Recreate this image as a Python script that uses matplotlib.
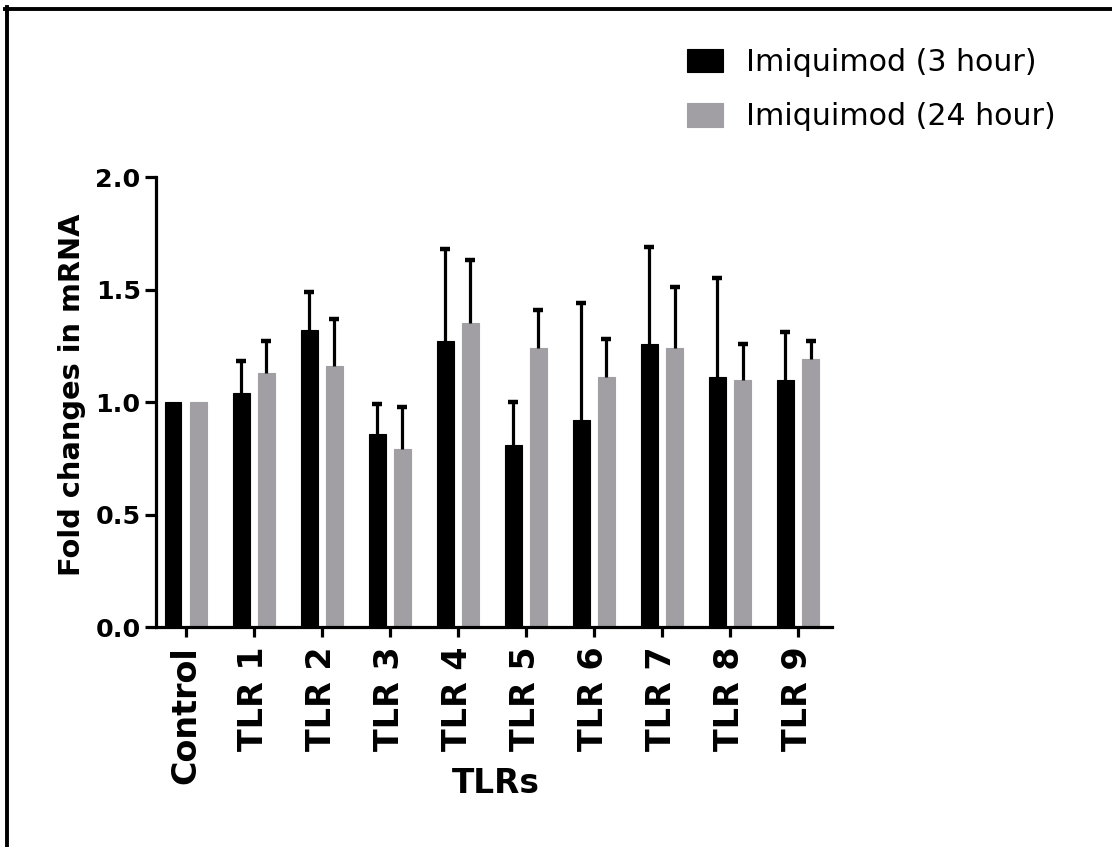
import numpy as np
import matplotlib
matplotlib.use("Agg")
import matplotlib.pyplot as plt
from matplotlib.lines import Line2D

categories = ["Control", "TLR 1", "TLR 2", "TLR 3", "TLR 4", "TLR 5", "TLR 6", "TLR 7", "TLR 8", "TLR 9"]
series_names = ["Imiquimod (3 hour)", "Imiquimod (24 hour)"]
values_3h = [1.00, 1.04, 1.32, 0.86, 1.27, 0.81, 0.92, 1.26, 1.11, 1.10]
values_24h = [1.00, 1.13, 1.16, 0.79, 1.35, 1.24, 1.11, 1.24, 1.10, 1.19]
err_3h = [0.0, 0.14, 0.17, 0.13, 0.41, 0.19, 0.52, 0.43, 0.44, 0.21]
err_24h = [0.0, 0.14, 0.21, 0.19, 0.28, 0.17, 0.17, 0.27, 0.16, 0.08]
y_ticks = [0.0, 0.5, 1.0, 1.5, 2.0]

W, H = 1112, 847
fig = plt.figure(figsize=(W / 100, H / 100), dpi=100)
fig.patch.set_facecolor("white")

def px(x0, y0, x1, y1):
    return [x0 / W, 1 - y1 / H, (x1 - x0) / W, (y1 - y0) / H]

ax = fig.add_axes(px(156, 177, 832, 627))

black = "#000000"
gray = "#a19fa4"
x = np.arange(len(categories))
off = 0.185
width = 0.245

b1 = ax.bar(x - off, values_3h, width, color=black, edgecolor=black, linewidth=0.8, label=series_names[0], zorder=2)
b2 = ax.bar(x + off, values_24h, width, color=gray, edgecolor=gray, linewidth=0.8, label=series_names[1], zorder=2)

for xs, vals, errs in [(x - off, values_3h, err_3h), (x + off, values_24h, err_24h)]:
    v = np.array(vals); e = np.array(errs); m = e > 0
    ax.vlines(xs[m], v[m], (v + e)[m], color="black", linewidth=2.3, zorder=3)
    ax.plot(xs[m], (v + e)[m], linestyle="none", marker="_", markersize=7,
            markeredgewidth=3.2, color="black", zorder=3)

ax.set_xlim(-0.437, 9.5)
ax.set_ylim(0, 2.0)
ax.set_yticks(y_ticks)
ax.set_yticklabels([f"{t:.1f}" for t in y_ticks])
ax.set_xticks(x)
ax.set_xticklabels(categories, rotation=90)

for s in ["top", "right"]:
    ax.spines[s].set_visible(False)
for s in ["left", "bottom"]:
    ax.spines[s].set_linewidth(2.3)
    ax.spines[s].set_capstyle("projecting")

ax.tick_params(axis="y", length=8, width=2.3, pad=3, labelsize=18.3)
ax.tick_params(axis="x", length=7, width=2.3, pad=7, labelsize=24)
for lab in ax.get_yticklabels() + ax.get_xticklabels():
    lab.set_fontweight("bold")
    lab.set_family("DejaVu Sans")

fig.text(72 / W, 1 - 395 / H, "Fold changes in mRNA", rotation=90, ha="center", va="center",
         fontsize=20.8, fontweight="bold", family="DejaVu Sans")
fig.text(496 / W, 1 - 783 / H, "TLRs", ha="center", va="center",
         fontsize=23.6, fontweight="bold", family="DejaVu Sans")

leg = fig.legend(handles=[b1, b2], labels=series_names, loc="upper left",
                 bbox_to_anchor=(687 / W, 1 - 48 / H), frameon=False,
                 prop={"family": "DejaVu Sans", "size": 21.6},
                 handlelength=1.2, handleheight=0.83, handletextpad=0.75,
                 labelspacing=0.84, borderpad=0, borderaxespad=0)

fig.add_artist(Line2D([6.5 / W, 6.5 / W], [0, 1 - 7 / H], color="black", linewidth=2.8, transform=fig.transFigure))
fig.add_artist(Line2D([5 / W, 1.0], [1 - 9 / H, 1 - 9 / H], color="black", linewidth=2.8, transform=fig.transFigure))

fig.savefig("out.png", dpi=100, facecolor="white")
